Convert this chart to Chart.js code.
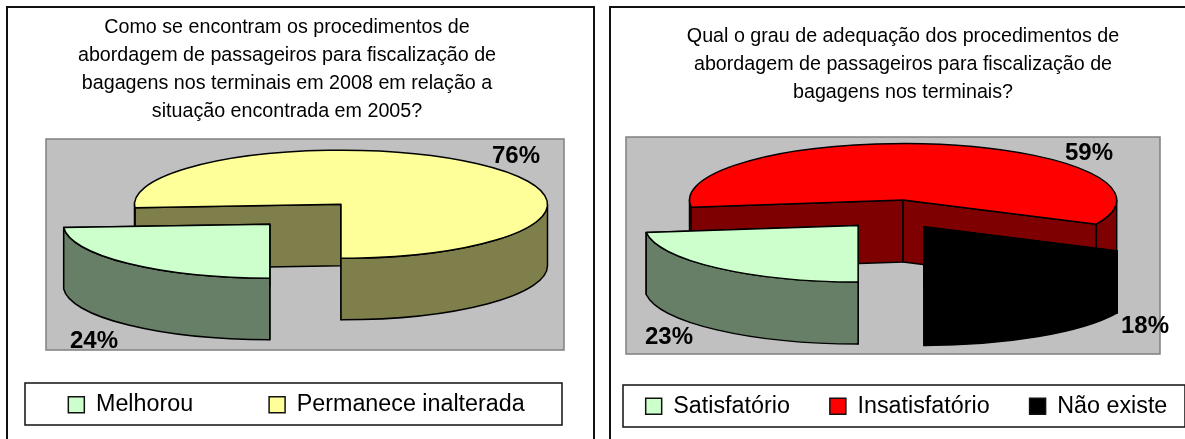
<!DOCTYPE html>
<html>
<head>
<meta charset="utf-8">
<script src="https://cdn.jsdelivr.net/npm/chart.js@4"></script>
<style>
html,body{margin:0;padding:0;background:#fff;overflow:hidden;width:1185px;height:439px}
.frame{position:absolute;top:6px;height:500px;border:2px solid #111;box-sizing:border-box}
canvas{position:absolute;top:0;left:0}
</style>
</head>
<body>
<div class="frame" style="left:6px;width:589px"></div>
<div class="frame" style="left:609px;width:700px"></div>
<canvas id="left" width="1185" height="439"></canvas>
<canvas id="right" width="1185" height="439"></canvas>
<script>
const leftTitle = ["Como se encontram os procedimentos de","abordagem de passageiros para fiscalização de","bagagens nos terminais em 2008 em relação a","situação encontrada em 2005?"];
const leftCategories = ["Melhorou","Permanece inalterada"];
const leftValues = [24,76];
const leftColors = ["#CCFFCC","#FFFF99"];

const rightTitle = ["Qual o grau de adequação dos procedimentos de","abordagem de passageiros para fiscalização de","bagagens nos terminais?"];
const rightCategories = ["Satisfatório","Insatisfatório","Não existe"];
const rightValues = [23,59,18];
const rightColors = ["#CCFFCC","#FF0000","#000000"];

function shade(hex){
  const n=parseInt(hex.slice(1),16);
  return `rgb(${(n>>16&255)>>1},${(n>>8&255)>>1},${(n&255)>>1})`;
}

const slabPie = {
  id:'slabPie',
  afterDatasetsUpdate(chart,args,o){
    chart.getDatasetMeta(0).data.forEach(el=>{
      const mid=(el.startAngle+el.endAngle)/2;
      el.x=o.cx+o.explode*Math.cos(mid);
      el.y=o.cy+o.explode*Math.sin(mid);
    });
  },
  afterLayout(chart,args,o){
    const lg=chart.legend, pad=lg.options.labels.padding;
    lg.left=o.legend.center-400; lg.right=o.legend.center+400;
    lg.top=o.legend.textTop-pad;
    chart.titleBlock.left=o.titleCenter-400; chart.titleBlock.right=o.titleCenter+400;
  },
  beforeDraw(chart,args,o){
    const c=chart.ctx;
    c.save();
    c.fillStyle='#C0C0C0'; c.strokeStyle='#808080'; c.lineWidth=1.5;
    c.fillRect(o.plot.x,o.plot.y,o.plot.w,o.plot.h);
    c.strokeRect(o.plot.x,o.plot.y,o.plot.w,o.plot.h);
    c.fillStyle='#fff'; c.strokeStyle='#111'; c.lineWidth=1.5;
    c.fillRect(o.legend.x,o.legend.y,o.legend.w,o.legend.h);
    c.strokeRect(o.legend.x,o.legend.y,o.legend.w,o.legend.h);
    c.restore();
  },
  beforeDatasetsDraw(chart,args,o){
    const c=chart.ctx, meta=chart.getDatasetMeta(0), colors=chart.data.datasets[0].backgroundColor;
    const Y=y=>o.cy+o.tilt*(y-o.cy);
    const order=meta.data.map((el,i)=>({el,i})).sort((a,b)=>a.el.y-b.el.y);
    c.save();
    c.strokeStyle='#000'; c.lineWidth=o.line; c.lineJoin='round';
    order.forEach(({el,i})=>{
      const p=el.getProps(['x','y','startAngle','endAngle','outerRadius']);
      const px=a=>p.x+p.outerRadius*Math.cos(a), py=a=>Y(p.y)+o.tilt*p.outerRadius*Math.sin(a);
      c.fillStyle=shade(colors[i]);
      [p.startAngle,p.endAngle].forEach(a=>{
        c.beginPath();
        c.moveTo(p.x,Y(p.y)); c.lineTo(px(a),py(a));
        c.lineTo(px(a),py(a)+o.depth); c.lineTo(p.x,Y(p.y)+o.depth); c.closePath();
        c.fill(); c.stroke();
      });
      for(let n=0;n<2;n++){
        const a0=Math.max(p.startAngle,2*Math.PI*n), a1=Math.min(p.endAngle,Math.PI+2*Math.PI*n);
        if(a1<=a0) continue;
        c.beginPath();
        c.ellipse(p.x,Y(p.y),p.outerRadius,o.tilt*p.outerRadius,0,a0,a1);
        c.lineTo(px(a1),py(a1)+o.depth);
        c.ellipse(p.x,Y(p.y)+o.depth,p.outerRadius,o.tilt*p.outerRadius,0,a1,a0,true);
        c.closePath();
        c.fill(); c.stroke();
      }
    });
    c.restore();
  },
  beforeDatasetDraw(chart,args,o){
    const c=chart.ctx;
    c.save();
    c.translate(0,o.cy); c.scale(1,o.tilt); c.translate(0,-o.cy);
  },
  afterDatasetDraw(chart,args,o){
    const c=chart.ctx;
    c.restore();
    c.save();
    c.strokeStyle='#000'; c.lineWidth=o.line; c.lineJoin='round';
    chart.getDatasetMeta(0).data.forEach(el=>{
      const Yc=o.cy+o.tilt*(el.y-o.cy);
      c.beginPath();
      c.moveTo(el.x,Yc);
      c.ellipse(el.x,Yc,el.outerRadius,o.tilt*el.outerRadius,0,el.startAngle,el.endAngle);
      c.closePath();
      c.stroke();
    });
    c.restore();
  },
  afterDatasetsDraw(chart,args,o){
    const c=chart.ctx, vals=chart.data.datasets[0].data;
    c.save();
    c.fillStyle='#000'; c.font='bold 24px "Liberation Sans", Arial, sans-serif';
    c.textAlign='center'; c.textBaseline='middle';
    vals.forEach((v,i)=>c.fillText(v+'%',o.labels[i][0],o.labels[i][1]));
    c.restore();
  }
};

function build(id,title,cats,vals,cols,titleTop,legendPad,o){
  return new Chart(document.getElementById(id),{
    type:'pie',
    data:{labels:cats,datasets:[{data:vals,backgroundColor:cols,borderWidth:0,clip:false}]},
    plugins:[slabPie],
    options:{
      responsive:false,animation:false,rotation:180,radius:o.radius,
      plugins:{
        slabPie:o,
        tooltip:{enabled:false},
        title:{display:true,text:title,color:'#000',padding:{top:titleTop,bottom:4},
          font:{family:'"Liberation Sans", Arial, sans-serif',size:19.7,weight:'normal',lineHeight:'28px'}},
        legend:{position:'bottom',align:'center',
          labels:{color:'#000',boxWidth:16,boxHeight:16,padding:legendPad,
            font:{family:'"Liberation Sans", Arial, sans-serif',size:23.3},
            generateLabels(ch){
              return Chart.overrides.pie.plugins.legend.labels.generateLabels(ch).map(l=>({...l,strokeStyle:'#111',lineWidth:1.5}));
            }}}
      }
    }
  });
}

build('left',leftTitle,leftCategories,leftValues,leftColors,14,76,{
  cx:305.4,cy:214.2,explode:52,tilt:0.262,depth:61.5,line:1.5,radius:206.5,titleCenter:287,
  plot:{x:46,y:139,w:518,h:211},
  legend:{x:25,y:383,w:537,h:42,textTop:393,center:296.5},
  labels:[[94,341],[516,156]]
});
build('right',rightTitle,rightCategories,rightValues,rightColors,23,40,{
  cx:894.5,cy:214.5,explode:55,tilt:0.265,depth:62,line:1.5,radius:213.6,titleCenter:903,
  plot:{x:626,y:137,w:534,h:217},
  legend:{x:623,y:385,w:562,h:42,textTop:394.5,center:906.5},
  labels:[[669,337],[1089,153],[1145,326]]
});
</script>
</body>
</html>
